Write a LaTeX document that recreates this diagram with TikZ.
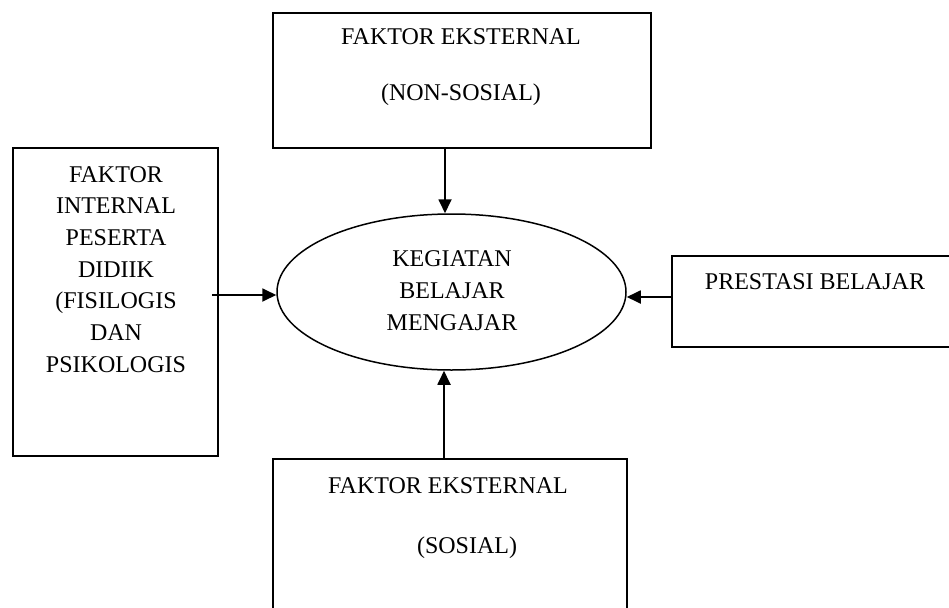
\documentclass[tikz,border=0pt]{standalone}
\usepackage{fontspec}
\setmainfont{Liberation Serif}
\usetikzlibrary{arrows.meta,shapes.geometric}
\begin{document}
\begin{tikzpicture}[x=1pt,y=-1pt,
  box/.style={draw,line width=1.8pt,rectangle,inner sep=0pt},
  ell/.style={draw,line width=1.5pt,ellipse,inner sep=0pt},
  txt/.style={anchor=base,inner sep=0pt,font=\fontsize{24}{29}\selectfont},
  arr/.style={line width=1.8pt,-{Triangle[length=14pt,width=13pt]}}]
\clip (0,0) rectangle (949,607);
\fill[white] (0,0) rectangle (949,607);
% boxes
\node[box,minimum width=378pt,minimum height=135pt] (top) at (462,80.5) {};
\node[box,minimum width=205pt,minimum height=308pt] (left) at (115.5,302) {};
\node[box,minimum width=281pt,minimum height=91pt] (right) at (812.5,301.5) {};
\node[box,minimum width=354pt,minimum height=180pt] (bottom) at (450,549) {};
\node[ell,minimum width=349pt,minimum height=156pt] (ell) at (451.5,292) {};
% texts
\node[txt] (t1) at (461,45) {FAKTOR EKSTERNAL};
\node[txt] (t2) at (461,101) {(NON-SOSIAL)};
\node[txt] (l1) at (116,182) {FAKTOR};
\node[txt] (l2) at (116,213.7) {INTERNAL};
\node[txt] (l3) at (116,245.4) {PESERTA};
\node[txt] (l4) at (116,277.1) {DIDIIK};
\node[txt] (l5) at (116,308.8) {(FISILOGIS};
\node[txt] (l6) at (116,340.5) {DAN};
\node[txt] (l7) at (116,372.2) {PSIKOLOGIS};
\node[txt] (e1) at (452,266) {KEGIATAN};
\node[txt] (e2) at (452,298) {BELAJAR};
\node[txt] (e3) at (452,330) {MENGAJAR};
\node[txt] (r1) at (815,289) {PRESTASI BELAJAR};
\node[txt] (b1) at (448,493) {FAKTOR EKSTERNAL};
\node[txt] (b2) at (467,553) {(SOSIAL)};
% connectors
\coordinate (ta) at ([xshift=-17pt]top.south);
\draw[arr] (ta) -- (ta |- ell.north);
\coordinate (la) at (212,295);
\draw[arr] (la) -- (la -| ell.west);
\coordinate (ra) at (right.west |- 0,297);
\draw[arr] (ra) -- (ra -| ell.east);
\coordinate (ba) at ([xshift=-6pt]bottom.north);
\draw[arr] (ba) -- (ba |- ell.south);
\end{tikzpicture}
\end{document}
